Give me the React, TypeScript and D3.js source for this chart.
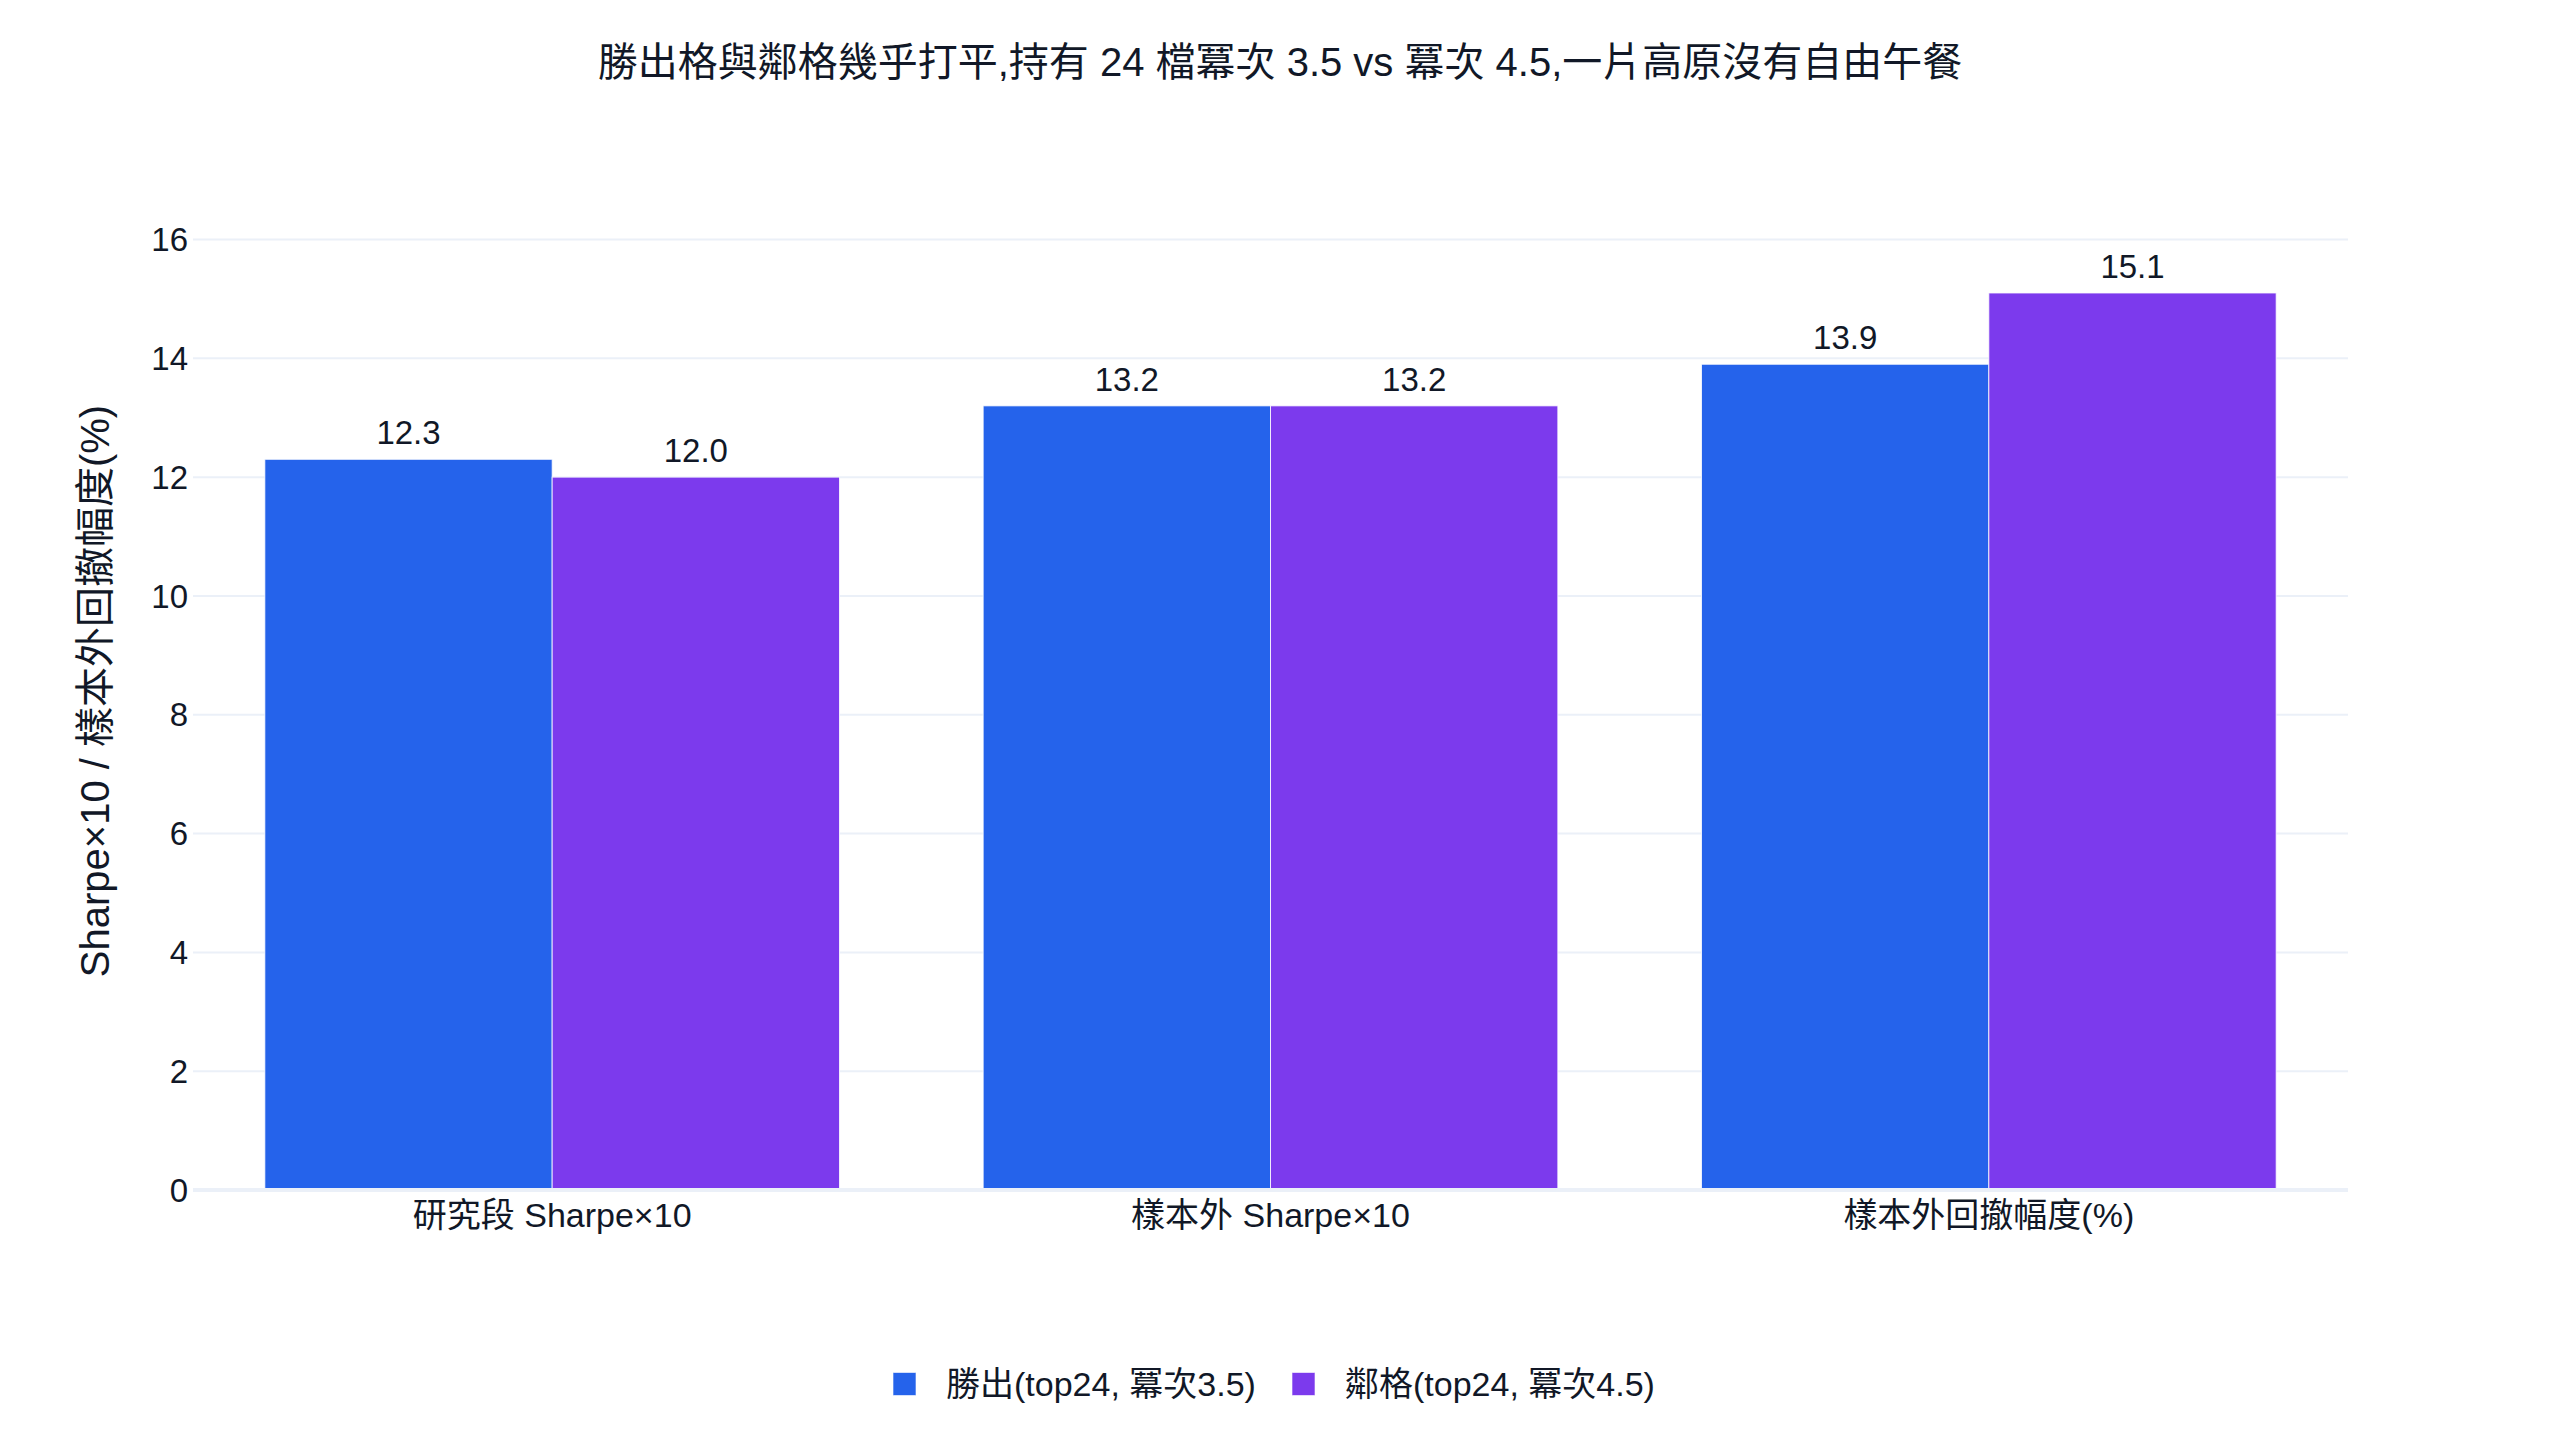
import React, { useEffect, useRef } from 'react';
import * as d3 from 'd3';

const categories = ['研究段 Sharpe×10', '樣本外 Sharpe×10', '樣本外回撤幅度(%)'];
const seriesNames = ['勝出(top24, 冪次3.5)', '鄰格(top24, 冪次4.5)'];
const winnerValues = [12.3, 13.2, 13.9];
const neighbourValues = [12.0, 13.2, 15.1];
const yTicks = [0, 2, 4, 6, 8, 10, 12, 14, 16];
const colors = ['#2563eb', '#7c3aed'];

const titleText = '勝出格與鄰格幾乎打平,持有 24 檔冪次 3.5 vs 冪次 4.5,一片高原沒有自由午餐';
const yTitle = 'Sharpe×10 / 樣本外回撤幅度(%)';

const FONT = '"Liberation Sans", Arial, "Noto Sans CJK TC", sans-serif';
const TEXT = '#111827';

const App: React.FC = () => {
  const svgRef = useRef<SVGSVGElement>(null);

  useEffect(() => {
    if (!svgRef.current) return;
    document.body.style.margin = '0';

    const width = 2560;
    const height = 1440;
    const margin = { top: 192, right: 212, bottom: 250, left: 193 };
    const plotRight = width - margin.right;
    const plotBottom = height - margin.bottom;

    const svg = d3.select(svgRef.current);
    svg.selectAll('*').remove();
    svg.attr('width', width).attr('height', height).style('font-family', FONT);

    svg.append('rect').attr('width', width).attr('height', height).attr('fill', '#fff');

    // Scales
    const x0 = d3.scaleBand<string>()
      .domain(categories)
      .range([margin.left, plotRight])
      .paddingInner(0.2)
      .paddingOuter(0.1);

    const x1 = d3.scaleBand<number>()
      .domain([0, 1])
      .range([0, x0.bandwidth()]);

    const y = d3.scaleLinear()
      .domain([0, 16.8])
      .range([plotBottom, margin.top]);

    // Gridlines
    svg.append('g')
      .selectAll('line')
      .data(yTicks.filter(t => t !== 0))
      .enter()
      .append('line')
      .attr('x1', margin.left)
      .attr('x2', plotRight)
      .attr('y1', d => y(d))
      .attr('y2', d => y(d))
      .attr('stroke', '#ebf0f8')
      .attr('stroke-width', 2);

    // Y tick labels
    svg.append('g')
      .selectAll('text')
      .data(yTicks)
      .enter()
      .append('text')
      .attr('x', margin.left - 5)
      .attr('y', d => y(d))
      .attr('dy', '0.35em')
      .attr('text-anchor', 'end')
      .style('font-size', '33px')
      .style('fill', TEXT)
      .text(d => d);

    // Bars
    const series = [winnerValues, neighbourValues];
    series.forEach((values, si) => {
      const g = svg.append('g');
      g.selectAll('rect')
        .data(values)
        .enter()
        .append('rect')
        .attr('x', (_, i) => (x0(categories[i]) as number) + (x1(si) as number))
        .attr('y', d => y(d))
        .attr('width', x1.bandwidth())
        .attr('height', d => y(0) - y(d))
        .attr('fill', colors[si])
        .attr('stroke', '#ffffff')
        .attr('stroke-opacity', 0.8)
        .attr('stroke-width', 1);

      g.selectAll('text')
        .data(values)
        .enter()
        .append('text')
        .attr('x', (_, i) => (x0(categories[i]) as number) + (x1(si) as number) + x1.bandwidth() / 2)
        .attr('y', d => y(d) - 15)
        .attr('text-anchor', 'middle')
        .style('font-size', '33px')
        .style('fill', TEXT)
        .text(d => d.toFixed(1));
    });

    // Zero line
    svg.append('line')
      .attr('x1', margin.left)
      .attr('x2', plotRight)
      .attr('y1', y(0))
      .attr('y2', y(0))
      .attr('stroke', '#ebf0f8')
      .attr('stroke-width', 4);

    // X labels
    svg.append('g')
      .selectAll('text')
      .data(categories)
      .enter()
      .append('text')
      .attr('x', d => (x0(d) as number) + x0.bandwidth() / 2)
      .attr('y', plotBottom + 37)
      .attr('text-anchor', 'middle')
      .style('font-size', '34px')
      .style('fill', TEXT)
      .text(d => d);

    // Title
    svg.append('text')
      .attr('x', width / 2)
      .attr('y', 76)
      .attr('text-anchor', 'middle')
      .style('font-size', '40px')
      .style('fill', TEXT)
      .text(titleText);

    // Y axis title
    svg.append('text')
      .attr('transform', `translate(95, ${(margin.top + plotBottom) / 2}) rotate(-90)`)
      .attr('text-anchor', 'middle')
      .attr('dy', '0.35em')
      .style('font-size', '40px')
      .style('fill', TEXT)
      .text(yTitle);

    // Legend
    const legend = svg.append('g');
    const legendX = [893, 1292];
    seriesNames.forEach((name, i) => {
      const item = legend.append('g').attr('transform', `translate(${legendX[i]}, 1384)`);
      item.append('rect')
        .attr('x', 0)
        .attr('y', -11.5)
        .attr('width', 23)
        .attr('height', 23)
        .attr('fill', colors[i])
        .attr('stroke', '#ffffff')
        .attr('stroke-opacity', 0.6)
        .attr('stroke-width', 1);
      item.append('text')
        .attr('x', 53)
        .attr('y', 0)
        .attr('dy', '0.35em')
        .style('font-size', '34px')
        .style('fill', TEXT)
        .text(name);
    });
  }, []);

  return <svg ref={svgRef}></svg>;
};

export default App;
